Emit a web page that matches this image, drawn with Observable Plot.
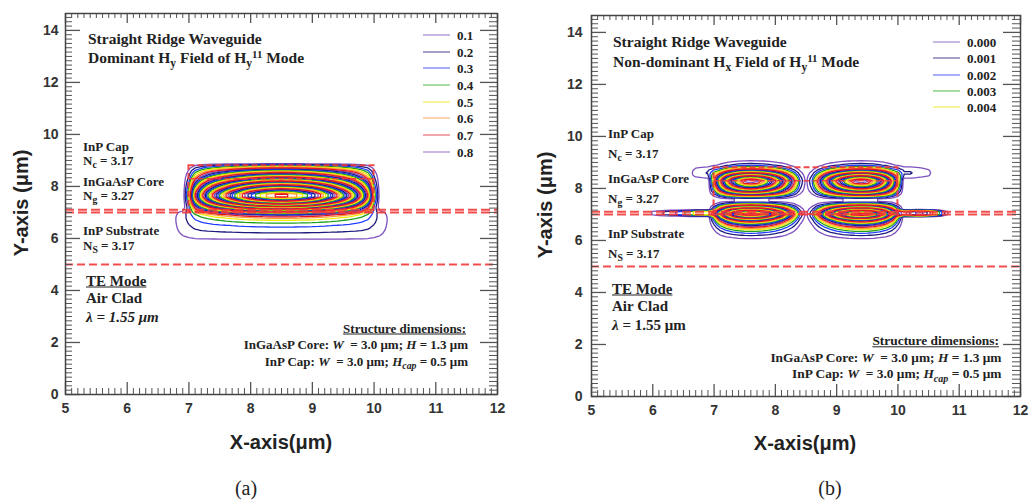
<!DOCTYPE html>
<html><head><meta charset="utf-8">
<script src="https://cdn.jsdelivr.net/npm/d3@7"></script>
<script src="https://cdn.jsdelivr.net/npm/@observablehq/plot@0.6"></script>
<style>
body{margin:0;background:#fff;}
#wrap{position:relative;width:1032px;height:504px;overflow:hidden;font-family:"Liberation Serif","Times New Roman",serif;color:#222;}
.p{position:absolute;top:0;}
.t{position:absolute;white-space:nowrap;font-weight:bold;font-size:13px;line-height:1;transform:translateY(-50%);}
.r{transform:translate(-100%,-50%);}
.c{transform:translate(-50%,-50%);}
.u{text-decoration:underline;}
sub{font-size:75%;vertical-align:-0.35em;line-height:0;}
sup{font-size:70%;vertical-align:0.5em;line-height:0;}
.ax{position:absolute;white-space:nowrap;font-family:"Liberation Sans",Arial,sans-serif;font-weight:bold;font-size:20px;color:#222;line-height:1;}
.cap{position:absolute;font-size:20px;line-height:1;transform:translate(-50%,-50%);}
.leg{position:absolute;display:flex;align-items:center;font-weight:bold;font-size:13px;line-height:1;transform:translateY(-50%);}
.leg span.l{display:inline-block;width:27px;height:0;margin-right:7px;}
</style></head>
<body><div id="wrap"></div>
<script>
// ---------- data ----------
// structure geometry (µm)
const ridgeX = [7, 10];
const ridgeY = [7, 8.8];
const capInterfaceY = [8.3];
const substrateTopY = [7.0, 7.1];
const substrateBottomY = [5.0];

// axis ticks
const xMajorTicks = [5, 6, 7, 8, 9, 10, 11, 12];
const yMajorTicks = [0, 2, 4, 6, 8, 10, 12, 14];
const xMinorTicks = d3.range(50, 121).map(i => i / 10).filter(v => !Number.isInteger(v));
const yMinorTicks = d3.range(0, 88).map(i => i / 6).filter((v, i) => i % 12 !== 0 && v < 14.6);

// panel (a): dominant Hy field — profiles [position, relative value]
const aCoreX = [[6.9,0],[7.0,0.1],[7.1,0.28],[7.2,0.4],[7.3,0.5],[7.4,0.58],[7.5,0.65],[7.6,0.71],[7.7,0.77],[7.8,0.82],[7.9,0.87],[8.0,0.91],[8.1,0.94],[8.2,0.965],[8.3,0.983],[8.4,0.995],[8.5,1.0],[8.6,0.995],[8.7,0.983],[8.8,0.965],[8.9,0.94],[9.0,0.91],[9.1,0.87],[9.2,0.82],[9.3,0.77],[9.4,0.71],[9.5,0.65],[9.6,0.58],[9.7,0.5],[9.8,0.4],[9.9,0.28],[10.0,0.1],[10.1,0]];
const aCoreY = [[5.9,0],[6.0,0.003],[6.1,0.005],[6.2,0.008],[6.3,0.012],[6.4,0.018],[6.5,0.027],[6.6,0.04],[6.7,0.058],[6.8,0.085],[6.9,0.13],[7.0,0.22],[7.1,0.36],[7.2,0.52],[7.3,0.67],[7.4,0.8],[7.5,0.91],[7.6,0.985],[7.7,0.985],[7.8,0.93],[7.9,0.85],[8.0,0.76],[8.1,0.67],[8.2,0.57],[8.3,0.48],[8.4,0.39],[8.5,0.31],[8.6,0.23],[8.7,0.15],[8.8,0.075],[8.9,0]];
const aSubX = [[6.6,0],[6.7,0.2],[6.8,0.5],[6.9,0.75],[7.0,0.9],[7.1,0.97],[7.2,1],[7.3,1],[7.4,1],[7.5,1],[7.6,1],[7.7,1],[7.8,1],[7.9,1],[8.0,1],[8.1,1],[8.2,1],[8.3,1],[8.4,1],[8.5,1],[8.6,1],[8.7,1],[8.8,1],[8.9,1],[9.0,1],[9.1,1],[9.2,1],[9.3,1],[9.4,1],[9.5,1],[9.6,1],[9.7,1],[9.8,1],[9.9,0.97],[10.0,0.9],[10.1,0.75],[10.2,0.5],[10.3,0.2],[10.4,0]];
const aSubY = [[5.7,0],[5.8,0.006],[5.9,0.013],[6.0,0.02],[6.1,0.026],[6.2,0.031],[6.3,0.035],[6.4,0.038],[6.5,0.04],[6.6,0.042],[6.7,0.043],[6.8,0.043],[6.9,0.04],[7.0,0.035],[7.1,0.02],[7.2,0.005],[7.3,0]];
const aAmplitude = 1.0;
const aLevels = d3.range(1, 50).map(i => i * 0.02);
const aLegend = ["0.1","0.2","0.3","0.4","0.5","0.6","0.7","0.8"];

// panel (b): non-dominant Hx field — profiles [position, relative value]
const bMainX = [[6.9,0],[7.0,0.2],[7.1,0.45],[7.2,0.65],[7.3,0.8],[7.4,0.91],[7.5,0.98],[7.6,1.0],[7.7,0.98],[7.8,0.92],[7.9,0.83],[8.0,0.71],[8.1,0.57],[8.2,0.41],[8.3,0.25],[8.4,0.1],[8.5,0.02],[8.6,0.1],[8.7,0.25],[8.8,0.41],[8.9,0.57],[9.0,0.71],[9.1,0.83],[9.2,0.92],[9.3,0.98],[9.4,1.0],[9.5,0.98],[9.6,0.91],[9.7,0.8],[9.8,0.65],[9.9,0.45],[10.0,0.2],[10.1,0]];
const bMainY = [[5.9,0],[6.0,0.02],[6.1,0.04],[6.2,0.07],[6.3,0.11],[6.4,0.16],[6.5,0.23],[6.6,0.32],[6.7,0.44],[6.8,0.6],[6.9,0.82],[7.0,1.0],[7.1,0.85],[7.2,0.6],[7.3,0.36],[7.4,0.16],[7.5,0.04],[7.6,0.04],[7.7,0.17],[7.8,0.36],[7.9,0.55],[8.0,0.72],[8.1,0.86],[8.2,0.96],[8.3,1.0],[8.4,0.88],[8.5,0.68],[8.6,0.48],[8.7,0.3],[8.8,0.17],[8.9,0.09],[9.0,0.05],[9.1,0.025],[9.2,0]];
const bTailX = [[5.9,0],[6.0,0.05],[6.1,0.07],[6.2,0.09],[6.3,0.11],[6.4,0.13],[6.5,0.16],[6.6,0.19],[6.7,0.22],[6.8,0.24],[6.9,0.22],[7.0,0.1],[7.1,0],[9.9,0],[10.0,0.15],[10.1,0.3],[10.2,0.38],[10.3,0.42],[10.4,0.42],[10.5,0.36],[10.6,0.26],[10.7,0.14],[10.8,0.05],[10.9,0]];
const bTailY = [[6.9,0],[7.0,0.8],[7.1,0.8],[7.2,0]];
const bWingX = [[6.5,0],[6.6,0.02],[6.7,0.05],[6.8,0.06],[6.9,0.07],[7.0,0.05],[7.1,0],[9.9,0],[10.0,0.05],[10.1,0.07],[10.2,0.07],[10.3,0.06],[10.4,0.05],[10.5,0.04],[10.6,0.02],[10.7,0]];
const bWingY = [[8.3,0],[8.4,0.5],[8.5,0.9],[8.6,1],[8.7,0.9],[8.8,0.6],[8.9,0.2],[9.0,0]];
const bAmplitude = 0.0045;
const bLevels = d3.range(1, 30).map(i => i * 0.00015);
const bLegend = ["0.000","0.001","0.002","0.003","0.004"];

// texts
const aTitleLines = ["Straight Ridge Waveguide", "Dominant H<sub>y</sub> Field of H<sub>y</sub><sup>11</sup> Mode"];
const bTitleLines = ["Straight Ridge Waveguide", "Non-dominant H<sub>x</sub> Field of H<sub>y</sub><sup>11</sup> Mode"];
const layerLines = ["InP Cap", "N<sub>c</sub> = 3.17", "InGaAsP Core", "N<sub>g</sub> = 3.27", "InP Substrate", "N<sub>S</sub> = 3.17"];
const aModeLines = ["TE Mode", "Air Clad", "<i>λ = 1.55 μm</i>"];
const bModeLines = ["TE Mode", "Air Clad", "<i>λ</i> = 1.55 μm"];
const dimLines = ["Structure dimensions:", "InGaAsP Core: <i>W</i>&nbsp; = 3.0 μm; <i>H</i> = 1.3 μm", "InP Cap: <i>W</i>&nbsp; = 3.0 μm; <i>H<sub>cap</sub></i> = 0.5 μm"];
const xTitle = "X-axis(μm)";
const yTitle = "Y-axis (μm)";
const captions = ["(a)", "(b)"];

// ---------- styles ----------
const palette = ["#7d4fbf", "#1f1a7d", "#1f3bff", "#1ea01e", "#eeea00", "#ff9933", "#e6141e"];
const legendPalette = ["#9272c8", "#4b4596", "#4f5ef5", "#4cb84c", "#f0ec30", "#f5a560", "#e8505a"];
const red = "#f03a3a";

function lookup(profile) {
  const m = new Map(profile.map(([c, v]) => [Math.round(c * 10), v]));
  return c => m.get(Math.round(c * 10)) ?? 0;
}
function field(xs, ys, terms, amp) {
  const fs = terms.map(([px, py]) => [lookup(px), lookup(py)]);
  const out = [];
  for (const y of ys) for (const x of xs) {
    let v = 0;
    for (const [fx, fy] of fs) v += fx(x) * fy(y);
    out.push(amp * v);
  }
  return out;
}

function makePanel(o) {
  const W = 516, H = 470;
  const innerW = W - o.ml - o.mr, innerH = H - o.mt - o.mb;
  const d = 0.1;
  const grid = field(o.xs, o.ys, o.terms, o.amp);
  const base = {value: Plot.identity, width: o.xs.length, height: o.ys.length,
    x1: o.xs[0] - d / 2, x2: o.xs[o.xs.length - 1] + d / 2,
    y1: o.ys[0] - d / 2, y2: o.ys[o.ys.length - 1] + d / 2,
    fill: "none", strokeWidth: 1.3};
  const contours = palette.map((c, k) => Plot.contour(grid, {...base,
    thresholds: o.levels.filter((_, i) => i % palette.length === k), stroke: c}));
  const tk = "#555";
  return Plot.plot({
    width: W, height: H, marginLeft: o.ml, marginRight: o.mr, marginTop: o.mt, marginBottom: o.mb,
    x: {domain: [5, 12], axis: null},
    y: {domain: [0, 14.65], axis: null},
    style: {background: "white", fontFamily: "'Liberation Sans', Arial, sans-serif"},
    marks: [
      ...contours,
      Plot.ruleY(substrateBottomY, {stroke: red, strokeWidth: 2, strokeDasharray: "8,4", strokeOpacity: 0.9}),
      Plot.ruleY(substrateTopY, {stroke: red, strokeWidth: 2, strokeDasharray: "9,4", strokeOpacity: 0.9}),
      Plot.rect([0], {x1: ridgeX[0], x2: ridgeX[1], y1: ridgeY[0], y2: ridgeY[1], fill: "none", stroke: red, strokeWidth: 2, strokeDasharray: "6,3", strokeOpacity: 0.9}),
      Plot.ruleY(capInterfaceY, {x1: ridgeX[0], x2: ridgeX[1], stroke: red, strokeWidth: 1.5, strokeDasharray: "6,3", strokeOpacity: 0.9}),
      Plot.tickX(xMinorTicks, {x: v => v, insetTop: innerH - 6, stroke: tk}),
      Plot.tickX(xMinorTicks, {x: v => v, insetBottom: innerH - 5, stroke: tk}),
      Plot.tickX(xMajorTicks, {x: v => v, insetTop: innerH - 12, stroke: tk, strokeWidth: 1.3}),
      Plot.tickX(xMajorTicks, {x: v => v, insetBottom: innerH - 10, stroke: tk, strokeWidth: 1.3}),
      Plot.tickY(yMinorTicks, {y: v => v, insetRight: innerW - 7, stroke: tk}),
      Plot.tickY(yMinorTicks, {y: v => v, insetLeft: innerW - 8, stroke: tk}),
      Plot.tickY(yMajorTicks, {y: v => v, insetRight: innerW - 15, stroke: tk, strokeWidth: 1.3}),
      Plot.tickY(yMajorTicks, {y: v => v, insetLeft: innerW - 17, stroke: tk, strokeWidth: 1.3}),
      Plot.frame({stroke: "#444", strokeWidth: 1.5}),
      Plot.axisX(xMajorTicks, {tickSize: 0, tickPadding: 9, fontSize: 14, fontWeight: "bold", fill: "#333", label: null}),
      Plot.axisY(yMajorTicks, {tickSize: 0, tickPadding: o.ypad, fontSize: 14, fontWeight: "bold", fill: "#333", label: null})
    ]
  });
}

const wrap = document.getElementById("wrap");
function put(node, left) {
  node.classList.add("p"); node.style.left = left + "px"; wrap.appendChild(node);
}
function text(html, x, y, cls = "", size = 13) {
  const e = document.createElement("div");
  e.className = "t " + cls; e.innerHTML = html;
  e.style.left = x + "px"; e.style.top = y + "px"; e.style.fontSize = size + "px";
  wrap.appendChild(e); return e;
}
function legend(labels, x, ys) {
  labels.forEach((lab, i) => {
    const e = document.createElement("div");
    e.className = "leg";
    e.innerHTML = `<span class="l" style="border-top:1.6px solid ${legendPalette[i % legendPalette.length]}"></span>${lab}`;
    e.style.left = x + "px"; e.style.top = ys[i] + "px";
    wrap.appendChild(e);
  });
}
function axisTitles(xc, xy, yx, yc) {
  const a = document.createElement("div");
  a.className = "ax"; a.textContent = xTitle;
  a.style.left = xc + "px"; a.style.top = xy + "px"; a.style.transform = "translate(-50%,-50%)";
  wrap.appendChild(a);
  const b = document.createElement("div");
  b.className = "ax"; b.textContent = yTitle;
  b.style.left = yx + "px"; b.style.top = yc + "px"; b.style.transform = "translate(-50%,-50%) rotate(-90deg)";
  wrap.appendChild(b);
}
function caption(t, x, y) {
  const e = document.createElement("div");
  e.className = "cap"; e.textContent = t; e.style.left = x + "px"; e.style.top = y + "px";
  wrap.appendChild(e);
}

// ---------- panel (a) ----------
put(makePanel({
  ml: 65, mr: 19, mt: 13, mb: 76, ypad: 7,
  xs: d3.range(65, 106).map(i => i / 10), ys: d3.range(56, 93).map(i => i / 10),
  terms: [[aCoreX, aCoreY], [aSubX, aSubY]], amp: aAmplitude, levels: aLevels
}), 0);

// ---------- panel (b) ----------
put(makePanel({
  ml: 75, mr: 12, mt: 15, mb: 74, ypad: 9,
  xs: d3.range(58, 111).map(i => i / 10), ys: d3.range(58, 95).map(i => i / 10),
  terms: [[bMainX, bMainY], [bTailX, bTailY], [bWingX, bWingY]], amp: bAmplitude, levels: bLevels
}), 516);

// annotations (a)
[38.5, 58].forEach((y, i) => text(aTitleLines[i], 88, y, "", 15.5));
[146, 160, 181, 195, 230, 245].forEach((y, i) => text(layerLines[i], 83, y, "", 13));
[281, 298, 317].forEach((y, i) => text(aModeLines[i], 86, y, i === 0 ? "u" : "", 15));
text(dimLines[0], 466, 327.7, "r u", 13);
text(dimLines[1], 468, 344, "r", 13);
text(dimLines[2], 468, 360.7, "r", 13);
legend(aLegend, 423, [35, 51.7, 68.3, 85, 101.7, 118.3, 135, 151.7]);
axisTitles(281, 441.7, 21, 203);
caption(captions[0], 246, 488);

// annotations (b)
[42.3, 62].forEach((y, i) => text(bTitleLines[i], 613, y, "", 15.5));
[133, 153, 178, 198, 233, 252.7].forEach((y, i) => text(layerLines[i], 608, y, "", 13));
[289, 306, 325].forEach((y, i) => text(bModeLines[i], 612, y, i === 0 ? "u" : "", 15));
text(dimLines[0], 999, 341, "r u", 13.4);
text(dimLines[1], 1001.5, 357.7, "r", 13.4);
text(dimLines[2], 1001.5, 374, "r", 13.4);
legend(bLegend, 933, [42.3, 58.3, 74.5, 90.7, 107.3]);
axisTitles(805, 443, 545, 205);
caption(captions[1], 830, 488);
</script></body></html>
